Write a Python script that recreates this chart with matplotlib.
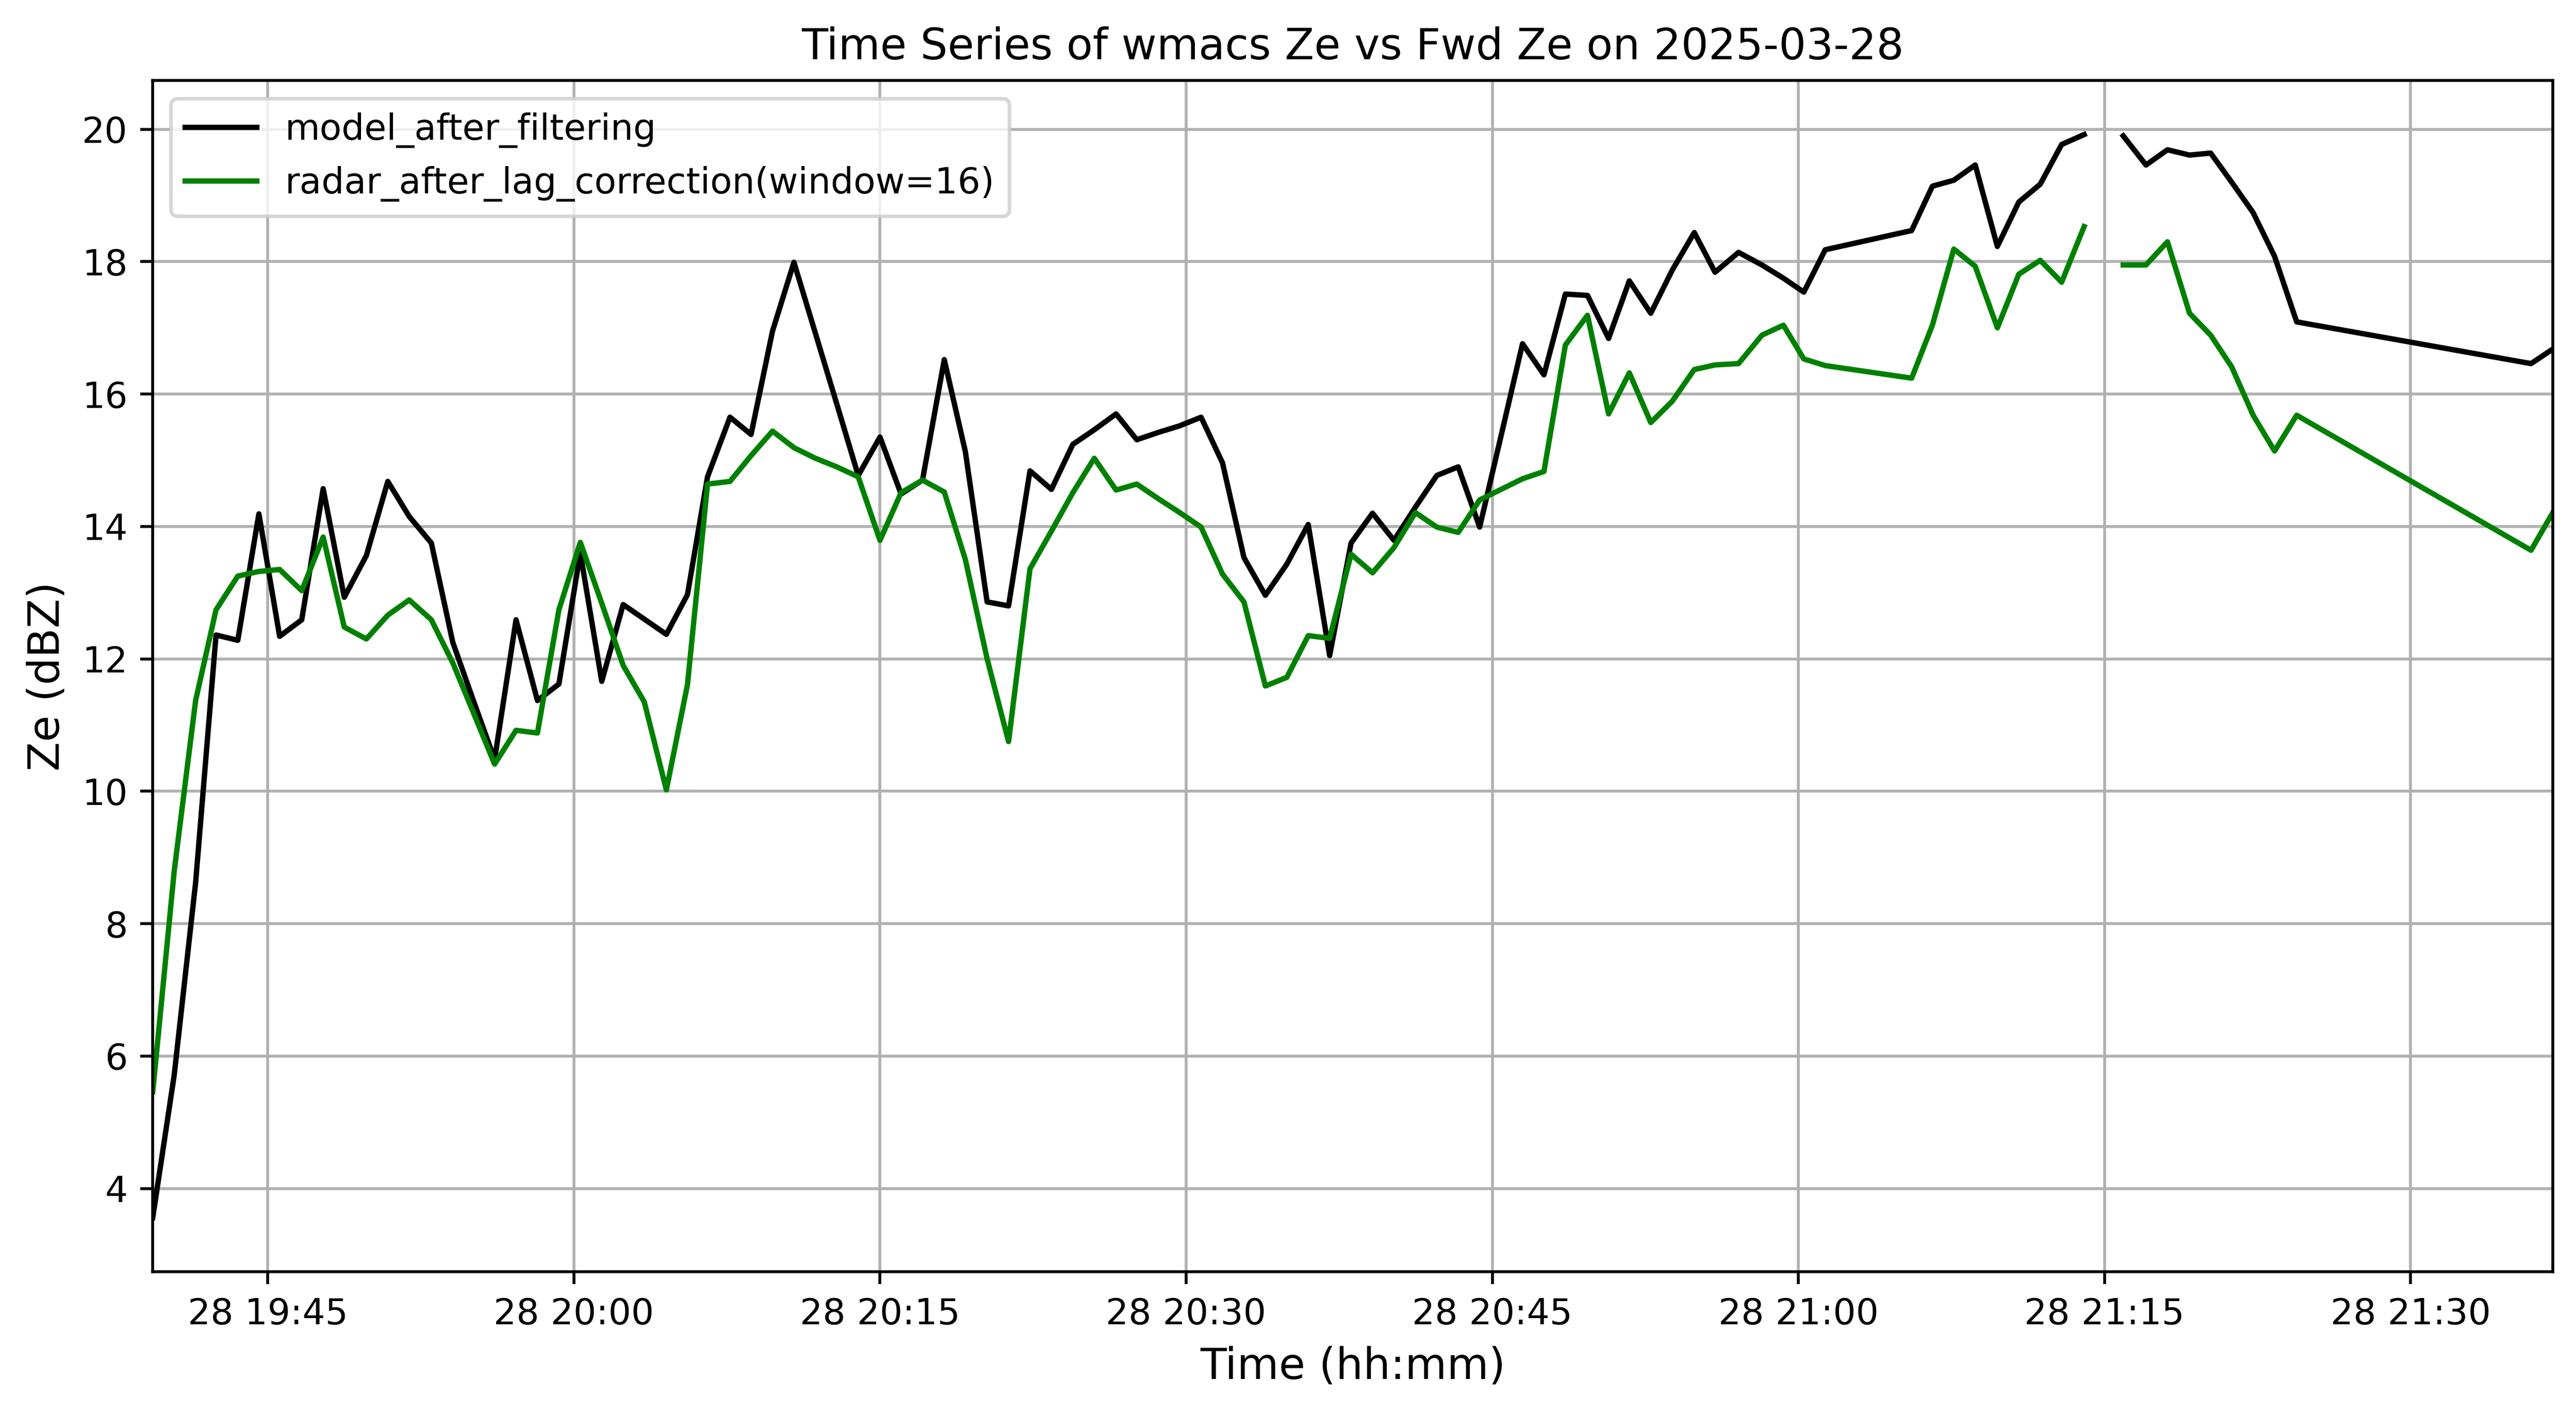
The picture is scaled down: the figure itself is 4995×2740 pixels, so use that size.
import numpy as np
import pandas as pd
import matplotlib
matplotlib.use("Agg")
import matplotlib.pyplot as plt
import matplotlib.dates as mdates

date = "2025-03-28"
times = [
    "19:39:22", "19:40:25", "19:41:28", "19:42:28", "19:43:32", "19:44:34", "19:45:35", "19:46:40",
    "19:47:43", "19:48:45", "19:49:50", "19:50:53", "19:51:56", "19:53:01", "19:54:04", "19:55:06",
    "19:56:07", "19:57:10", "19:58:13", "19:59:16", "20:00:19", "20:01:22", "20:02:25", "20:03:27",
    "20:04:32", "20:05:34", "20:06:33", "20:07:39", "20:08:41", "20:09:44", "20:10:47", "20:11:50",
    "20:12:53", "20:13:56", "20:15:00", "20:16:02", "20:17:05", "20:18:09", "20:19:11", "20:20:15",
    "20:21:18", "20:22:21", "20:23:24", "20:24:27", "20:25:30", "20:26:34", "20:27:35", "20:28:38",
    "20:29:41", "20:30:44", "20:31:47", "20:32:50", "20:33:53", "20:34:56", "20:35:59", "20:37:02",
    "20:38:05", "20:39:08", "20:40:11", "20:41:14", "20:42:17", "20:43:20", "20:44:23", "20:45:26",
    "20:46:29", "20:47:32", "20:48:35", "20:49:40", "20:50:42", "20:51:43", "20:52:46", "20:53:49",
    "20:54:54", "20:55:55", "20:57:04", "20:58:13", "20:59:16", "21:00:16", "21:01:19", "21:05:33",
    "21:06:34", "21:07:37", "21:08:40", "21:09:45", "21:10:48", "21:11:51", "21:12:54", "21:14:00",
    "21:15:00",
    "21:15:55", "21:17:02", "21:18:05", "21:19:10", "21:20:12", "21:21:14", "21:22:17", "21:23:20",
    "21:24:25", "21:35:54", "21:36:58",
]

model_after_filtering = [
    3.56, 5.71, 8.62, 12.36, 12.28, 14.19, 12.34, 12.59,
    14.57, 12.93, 13.56, 14.68, 14.15, 13.75, 12.25, 11.35,
    10.48, 12.59, 11.37, 11.62, 13.60, 11.66, 12.82, 12.60,
    12.37, 12.97, 14.75, 15.65, 15.39, 16.95, 17.99, 16.92,
    15.85, 14.77, 15.35, 14.49, 14.70, 16.52, 15.13, 12.86,
    12.80, 14.84, 14.56, 15.24, 15.46, 15.70, 15.31, 15.42,
    15.52, 15.65, 14.96, 13.53, 12.96, 13.43, 14.03, 12.05,
    13.75, 14.20, 13.79, 14.29, 14.77, 14.90, 13.99, 15.37,
    16.76, 16.29, 17.51, 17.49, 16.84, 17.71, 17.22, 17.87,
    18.44, 17.84, 18.14, 17.95, 17.75, 17.54, 18.18, 18.47,
    19.14, 19.23, 19.46, 18.23, 18.90, 19.17, 19.77, 19.92,
    np.nan,
    19.90, 19.46, 19.69, 19.61, 19.64, 19.20, 18.74, 18.08,
    17.09, 16.46, 16.68,
]

radar_after_lag_correction = [
    5.46, 8.79, 11.37, 12.74, 13.25, 13.32, 13.35, 13.03,
    13.84, 12.48, 12.30, 12.66, 12.89, 12.59, 11.94, 11.17,
    10.41, 10.92, 10.88, 12.74, 13.76, 12.84, 11.90, 11.35,
    10.02, 11.61, 14.64, 14.68, 15.07, 15.44, 15.19, 15.03,
    14.90, 14.75, 13.79, 14.51, 14.70, 14.52, 13.50, 12.00,
    10.75, 13.36, 13.93, 14.51, 15.03, 14.55, 14.64, 14.42,
    14.21, 13.99, 13.28, 12.86, 11.59, 11.72, 12.35, 12.31,
    13.58, 13.30, 13.68, 14.21, 13.99, 13.91, 14.40, 14.56,
    14.72, 14.83, 16.74, 17.19, 15.70, 16.32, 15.57, 15.89,
    16.37, 16.44, 16.46, 16.89, 17.04, 16.53, 16.43, 16.24,
    17.04, 18.19, 17.93, 17.00, 17.81, 18.02, 17.69, 18.53,
    np.nan,
    17.95, 17.95, 18.30, 17.22, 16.89, 16.41, 15.68, 15.14,
    15.68, 13.64, 14.21,
]

t = pd.to_datetime([f"{date} {s}" for s in times])

fig = plt.figure(figsize=(9.99, 5.48), dpi=500)
ax = fig.add_axes([0.0593, 0.100, 0.9317, 0.8431])

ax.plot(t, model_after_filtering, color="black", lw=1.5, label="model_after_filtering")
ax.plot(t, radar_after_lag_correction, color="green", lw=1.5,
        label="radar_after_lag_correction(window=16)")

ax.set_xlim(t[0], t[-1])
ax.xaxis.set_major_locator(mdates.MinuteLocator(byminute=[0, 15, 30, 45]))
ax.xaxis.set_major_formatter(mdates.DateFormatter("%d %H:%M"))
ax.set_yticks([4, 6, 8, 10, 12, 14, 16, 18, 20])

ax.grid(True)
ax.legend(loc="upper left")
ax.set_title(f"Time Series of wmacs Ze vs Fwd Ze on {date}", fontsize=12)
ax.set_xlabel("Time (hh:mm)", fontsize=12)
ax.set_ylabel("Ze (dBZ)", fontsize=12)

fig.savefig("out.png", dpi=500)
